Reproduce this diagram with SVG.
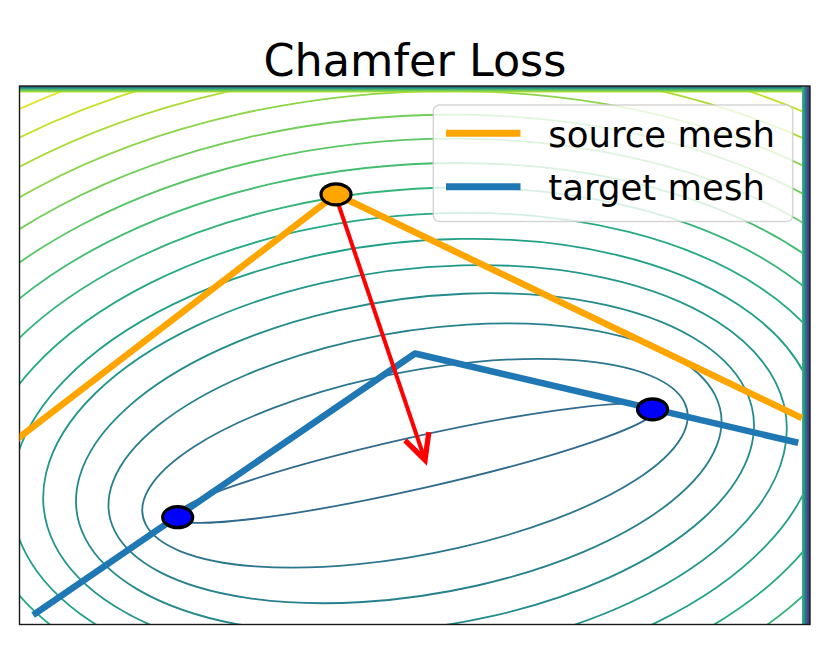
<svg xmlns="http://www.w3.org/2000/svg" width="830" height="653" viewBox="0 0 830 653">
  <style>
    .lvl { fill: none; stroke-width: 1.8; vector-effect: non-scaling-stroke; }
    .txt { font-family: "DejaVu Sans", "Liberation Sans", sans-serif; fill: #000; }
    .mesh { fill: none; stroke-width: 6.5; stroke-linecap: square; stroke-linejoin: round; }
    .pt { stroke: #000; stroke-width: 3.2; }
  </style>
  <defs>
    <clipPath id="plotclip">
      <rect x="19.5" y="86" width="790.5" height="538.5"/>
    </clipPath>
    <linearGradient id="topband" x1="0" y1="0" x2="0" y2="1">
      <stop offset="0" stop-color="#1d3a4c"/>
      <stop offset="0.3" stop-color="#23898e"/>
      <stop offset="0.65" stop-color="#5ec962"/>
      <stop offset="1" stop-color="#c8e020"/>
    </linearGradient>
    <linearGradient id="rightband" x1="0" y1="0" x2="1" y2="0">
      <stop offset="0" stop-color="#3fbc73"/>
      <stop offset="0.35" stop-color="#25858e"/>
      <stop offset="0.7" stop-color="#3e4989"/>
      <stop offset="1" stop-color="#46307e"/>
    </linearGradient>
    <marker id="arrowhead" markerUnits="userSpaceOnUse" markerWidth="40" markerHeight="40" refX="0" refY="0" viewBox="-25 -15 30 30" orient="auto">
      <path d="M-18.8,-9.4 L0,0 L-18.8,9.4" fill="none" stroke="#ff0000" stroke-width="4" stroke-linejoin="miter"/>
    </marker>
  </defs>

  <rect x="0" y="0" width="830" height="653" fill="#ffffff"/>

  <g id="title">
    <text class="txt" x="415" y="76" font-size="44.5" text-anchor="middle">Chamfer Loss</text>
  </g>

  <g id="contours" clip-path="url(#plotclip)">
    <g transform="matrix(1 0 0 0.666667 0 0)">
      <g transform="translate(415 694.9) rotate(-18.817)">
        <ellipse class="lvl" rx="253.75" ry="37.9" stroke="#306b8e"/>
        <ellipse class="lvl" rx="284.5" ry="134.1" stroke="#2b768e"/>
        <ellipse class="lvl" rx="317" ry="193.7" stroke="#27818d"/>
        <ellipse class="lvl" rx="348.5" ry="241.9" stroke="#238b8c"/>
        <ellipse class="lvl" rx="380.5" ry="286.0" stroke="#21968a"/>
        <ellipse class="lvl" rx="412" ry="326.8" stroke="#22a087"/>
        <ellipse class="lvl" rx="444.5" ry="366.9" stroke="#25aa82"/>
        <ellipse class="lvl" rx="477" ry="405.7" stroke="#34b47a"/>
        <ellipse class="lvl" rx="509.25" ry="443.1" stroke="#43be71"/>
        <ellipse class="lvl" rx="541.75" ry="480.1" stroke="#59c664"/>
        <ellipse class="lvl" rx="574.25" ry="516.5" stroke="#71ce56"/>
        <ellipse class="lvl" rx="606.75" ry="552.4" stroke="#8bd546"/>
        <ellipse class="lvl" rx="639.5" ry="588.2" stroke="#a9db33"/>
        <ellipse class="lvl" rx="672" ry="623.4" stroke="#c5e026"/>
        <ellipse class="lvl" rx="704.5" ry="658.3" stroke="#e2e425"/>
      </g>
    </g>
    <rect x="19.5" y="86" width="790.5" height="6.5" fill="url(#topband)"/>
    <rect x="802" y="86" width="8" height="538.5" fill="url(#rightband)"/>
  </g>

  <g id="axes-frame">
    <rect x="19.5" y="86" width="790.5" height="538.5" fill="none" stroke="#1a1a1a" stroke-width="1.4"/>
  </g>

  <g id="source-mesh" clip-path="url(#plotclip)">
    <polyline class="mesh" stroke="#ffa500" points="16,440 336,194.3 799,416.7"/>
  </g>

  <g id="target-mesh" clip-path="url(#plotclip)">
    <polyline class="mesh" stroke="#1f77b4" points="35.8,613.3 415,353.5 795.1,442"/>
  </g>

  <g id="connectors">
    <line x1="338" y1="203" x2="425" y2="460" stroke="#ff0000" stroke-width="4" marker-end="url(#arrowhead)"/>
  </g>

  <g id="source-point">
    <ellipse class="pt" cx="336" cy="194.3" rx="15" ry="10.5" fill="#ffa500"/>
  </g>
  <g id="target-point-1">
    <ellipse class="pt" cx="177.7" cy="517.2" rx="15" ry="10.5" fill="#0000ff"/>
  </g>
  <g id="target-point-2">
    <ellipse class="pt" cx="652.5" cy="409.3" rx="15" ry="10.5" fill="#0000ff"/>
  </g>

  <g id="legend">
    <rect x="433.3" y="105" width="359.4" height="116.5" rx="6" ry="6" fill="#ffffff" fill-opacity="0.8" stroke="#cccccc" stroke-opacity="0.8" stroke-width="1.5"/>
    <line x1="446" y1="133.3" x2="520.5" y2="133.3" stroke="#ffa500" stroke-width="7"/>
    <text class="txt" x="548.3" y="146.5" font-size="35.5">source mesh</text>
    <line x1="446" y1="186.7" x2="520.5" y2="186.7" stroke="#1f77b4" stroke-width="7"/>
    <text class="txt" x="548.3" y="199.8" font-size="35.5">target mesh</text>
  </g>
</svg>
